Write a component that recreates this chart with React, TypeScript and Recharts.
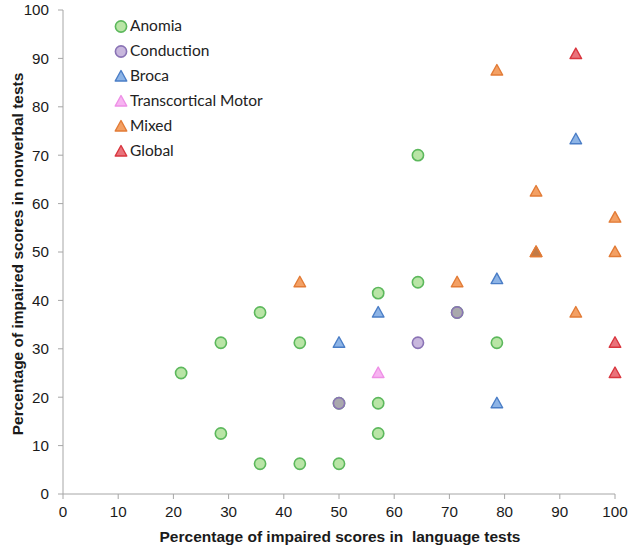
import { ScatterChart, Scatter, XAxis, YAxis, Label } from 'recharts'

// language-test impairment (%) vs nonverbal-test impairment (%), per aphasia type
const anomiaX = [21.4, 28.6, 28.6, 35.7, 35.7, 42.9, 42.9, 50, 50, 57.1, 57.1, 57.1, 64.3, 64.3, 71.4, 78.6]
const anomiaY = [25, 31.25, 12.5, 37.5, 6.25, 31.25, 6.25, 6.25, 18.75, 41.5, 18.75, 12.5, 70, 43.75, 37.5, 31.25]
const conductionX = [50, 64.3, 71.4]
const conductionY = [18.75, 31.25, 37.5]
const brocaX = [50, 57.1, 78.6, 78.6, 92.9]
const brocaY = [31.25, 37.5, 44.4, 18.75, 73.3]
const tmX = [57.1]
const tmY = [25]
const mixedX = [42.9, 71.4, 78.6, 85.7, 85.7, 85.7, 92.9, 100, 100]
const mixedY = [43.75, 43.75, 87.5, 62.5, 50, 50, 37.5, 57.1, 50]
const globalX = [92.9, 100, 100]
const globalY = [90.9, 31.25, 25]

const axisTicks = [0, 10, 20, 30, 40, 50, 60, 70, 80, 90, 100]

type Shape = 'circle' | 'triangle'
type Series = {
  name: string
  xs: number[]
  ys: number[]
  shape: Shape
  fill: string
  stroke: string
  overlapFill: string
}

const series: Series[] = [
  { name: 'Anomia', xs: anomiaX, ys: anomiaY, shape: 'circle', fill: '#b9e5a6', stroke: '#5cb85c', overlapFill: '#9ccf88' },
  { name: 'Conduction', xs: conductionX, ys: conductionY, shape: 'circle', fill: '#c8b7dd', stroke: '#8a73b5', overlapFill: '#a9a9ad' },
  { name: 'Broca', xs: brocaX, ys: brocaY, shape: 'triangle', fill: '#8db4e6', stroke: '#4a7dc6', overlapFill: '#6e96c9' },
  { name: 'Transcortical Motor', xs: tmX, ys: tmY, shape: 'triangle', fill: '#f7b4f1', stroke: '#ee8fe6', overlapFill: '#dd9ad8' },
  { name: 'Mixed', xs: mixedX, ys: mixedY, shape: 'triangle', fill: '#f3a064', stroke: '#e27b36', overlapFill: '#c27b47' },
  { name: 'Global', xs: globalX, ys: globalY, shape: 'triangle', fill: '#e9737b', stroke: '#d9363f', overlapFill: '#c95860' },
]

// mark points sitting on top of an earlier point, they show a darker blend
const seen = new Set<string>()
const seriesData = series.map((s) =>
  s.xs.map((x, i) => {
    const key = `${x}|${s.ys[i]}`
    const overlap = seen.has(key)
    seen.add(key)
    return { x, y: s.ys[i], overlap }
  })
)

function Marker({ cx, cy, s, overlap }: { cx: number; cy: number; s: Series; overlap?: boolean }) {
  const fill = overlap ? s.overlapFill : s.fill
  if (s.shape === 'circle') {
    return <circle cx={cx} cy={cy} r={5.6} fill={fill} stroke={s.stroke} strokeWidth={1.6} />
  }
  const pts = `${cx},${cy - 6} ${cx + 5.8},${cy + 4.5} ${cx - 5.8},${cy + 4.5}`
  return <polygon points={pts} fill={fill} stroke={s.stroke} strokeWidth={1.4} strokeLinejoin="round" />
}

function LegendBox() {
  return (
    <div
      style={{
        position: 'absolute',
        left: 114,
        top: 13,
        fontFamily: 'Lato, sans-serif',
        fontSize: 15.5,
        color: '#222',
        lineHeight: '25px',
      }}
    >
      {series.map((s) => (
        <div key={s.name} style={{ display: 'flex', alignItems: 'center', height: 25 }}>
          <svg width={14} height={14} style={{ marginRight: 2 }}>
            <Marker cx={7} cy={7.5} s={s} />
          </svg>
          <span>{s.name}</span>
        </div>
      ))}
    </div>
  )
}

const tickStyle = { fontFamily: '"Liberation Sans", Arial, sans-serif', fontSize: 15.2, fill: '#1a1a1a' }
const titleStyle = { fontFamily: '"Liberation Sans", Arial, sans-serif', fontSize: 15.5, fontWeight: 700, fill: '#1a1a1a' }

export default function App() {
  return (
    <div style={{ position: 'absolute', left: 0, top: 0, width: 633, height: 553, background: '#fff' }}>
      <ScatterChart width={633} height={553} margin={{ top: 10, right: 18, bottom: 0, left: 0 }}>
        <XAxis
          type="number"
          dataKey="x"
          domain={[0, 100]}
          ticks={axisTicks}
          height={59}
          tick={tickStyle}
          tickSize={5}
          tickMargin={7}
          axisLine={{ stroke: '#a6a6a6' }}
          tickLine={{ stroke: '#a6a6a6' }}
        >
          <Label
            content={({ viewBox }: any) => (
              <text
                x={viewBox.x + viewBox.width / 2 + 1}
                y={viewBox.y + 48}
                textAnchor="middle"
                style={titleStyle}
              >
                Percentage of impaired scores in {'\u00a0'}language tests
              </text>
            )}
          />
        </XAxis>
        <YAxis
          type="number"
          dataKey="y"
          domain={[0, 100]}
          ticks={axisTicks}
          width={63}
          tick={tickStyle}
          tickSize={5}
          tickMargin={9}
          axisLine={{ stroke: '#a6a6a6' }}
          tickLine={{ stroke: '#a6a6a6' }}
        >
          <Label
            content={({ viewBox }: any) => {
              const x = viewBox.x + 17
              const y = viewBox.y + viewBox.height / 2 + 2
              return (
                <text x={x} y={y} textAnchor="middle" dominantBaseline="central" transform={`rotate(-90, ${x}, ${y})`} style={titleStyle}>
                  Percentage of impaired scores in nonverbal tests
                </text>
              )
            }}
          />
        </YAxis>
        {series.map((s, i) => (
          <Scatter
            key={s.name}
            name={s.name}
            data={seriesData[i]}
            fill={s.fill}
            isAnimationActive={false}
            shape={(p: any) => <Marker cx={p.cx} cy={p.cy} s={s} overlap={p.payload?.overlap} />}
          />
        ))}
      </ScatterChart>
      <LegendBox />
    </div>
  )
}
